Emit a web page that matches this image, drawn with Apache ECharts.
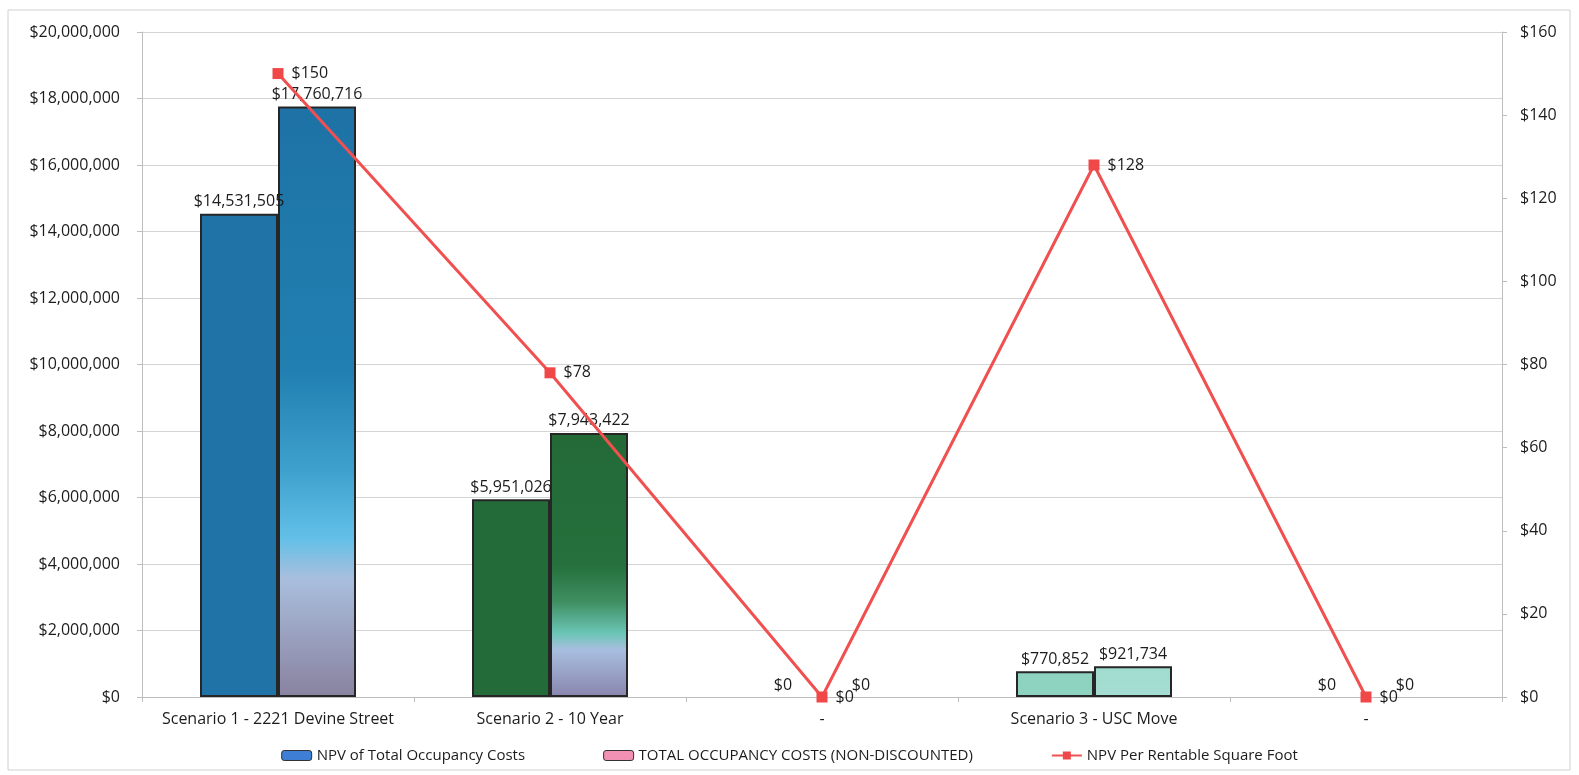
<!DOCTYPE html>
<html><head><meta charset="utf-8">
<script src="https://cdn.jsdelivr.net/npm/echarts@6/dist/echarts.min.js"></script>
<style>html,body{margin:0;padding:0;background:#fff}#c{width:1579px;height:775px}</style>
</head><body><div id="c"></div>
<script>
const categories = ['Scenario 1 - 2221 Devine Street', 'Scenario 2 - 10 Year', '-', 'Scenario 3 - USC Move', '-'];
const npvTotal = [14531505, 5951026, 0, 770852, 0];
const totalNonDiscounted = [17760716, 7943422, 0, 921734, 0];
const npvPerSqFt = [150, 78, 0, 128, 0];
const leftTicks = { min: 0, max: 20000000, interval: 2000000 };
const rightTicks = { min: 0, max: 160, interval: 20 };

const FONT = '"Open Sans", "Noto Sans", sans-serif';
const TXT = '#1c1c1c';
const npvColors = ['#1F73A6', '#236B38', '#2E7D5A', '#8ED3C0', '#1F73A6'];
function grad(stops) {
  return { type: 'linear', x: 0, y: 0, x2: 0, y2: 1, colorStops: stops.map(s => ({ offset: s[0], color: s[1] })) };
}
const totalColors = [
  grad([[0, '#1E72A5'], [0.45, '#2180B1'], [0.62, '#3FA2CE'], [0.73, '#62C0E8'], [0.8, '#A9BEDD'], [1, '#88829F']]),
  grad([[0, '#236A37'], [0.5, '#25703C'], [0.64, '#3F8F62'], [0.76, '#6CC6B6'], [0.82, '#A8BEE0'], [1, '#8985AD']]),
  '#9FDACB',
  grad([[0, '#9FDCCE'], [1, '#A7DDD3']]),
  '#9FDACB'
];
const money = v => '$' + Math.round(v).toLocaleString('en-US');
const barItem = (v, color) => ({ value: v, itemStyle: { color: color, borderWidth: v === 0 ? 0 : 2 } });

const chart = echarts.init(document.getElementById('c'));
chart.setOption({
  animation: false,
  textStyle: { fontFamily: FONT },
  graphic: [{
    type: 'rect', shape: { x: 8, y: 10, width: 1562, height: 760 },
    style: { fill: 'none', stroke: '#d0d0d0', lineWidth: 1 }, z: -1
  }],
  grid: { left: 142, right: 77, top: 32, bottom: 78 },
  legend: {
    bottom: 7, left: 'center', itemGap: 78, itemWidth: 30, itemHeight: 10,
    textStyle: { fontFamily: FONT, fontSize: 15, color: TXT },
    data: [
      { name: 'NPV of Total Occupancy Costs', itemStyle: { color: '#3E7ED4', borderColor: '#333', borderWidth: 1 } },
      { name: 'TOTAL OCCUPANCY COSTS (NON-DISCOUNTED)', itemStyle: { color: '#F291B4', borderColor: '#333', borderWidth: 1 } },
      { name: 'NPV Per Rentable Square Foot' }
    ]
  },
  xAxis: {
    type: 'category', data: categories,
    axisLine: { lineStyle: { color: '#bdbdbd' } },
    axisTick: { show: true, alignWithLabel: false, lineStyle: { color: '#bdbdbd' } },
    axisLabel: { interval: 0, color: TXT, fontSize: 16, margin: 14, fontFamily: FONT }
  },
  yAxis: [{
    type: 'value', min: leftTicks.min, max: leftTicks.max, interval: leftTicks.interval,
    axisLine: { show: true, lineStyle: { color: '#bdbdbd' } },
    axisTick: { show: true, lineStyle: { color: '#bdbdbd' } },
    splitLine: { lineStyle: { color: '#d4d4d4' } },
    axisLabel: { color: TXT, fontSize: 16, margin: 22, formatter: v => money(v), fontFamily: FONT }
  }, {
    type: 'value', min: rightTicks.min, max: rightTicks.max, interval: rightTicks.interval,
    axisLine: { show: true, lineStyle: { color: '#bdbdbd' } },
    axisTick: { show: true, lineStyle: { color: '#bdbdbd' } },
    splitLine: { show: false },
    axisLabel: { color: TXT, fontSize: 16, margin: 18, formatter: v => '$' + v, fontFamily: FONT }
  }],
  series: [{
    name: 'NPV of Total Occupancy Costs', type: 'bar', barWidth: 78, barGap: '0%',
    itemStyle: { color: '#3E7ED4', borderColor: '#262626', borderWidth: 2 },
    data: npvTotal.map((v, i) => barItem(v, npvColors[i])),
    label: { show: true, position: 'top', distance: 4, color: TXT, fontSize: 16, fontFamily: FONT, formatter: p => money(p.value) }
  }, {
    name: 'TOTAL OCCUPANCY COSTS (NON-DISCOUNTED)', type: 'bar', barWidth: 78, barGap: '0%',
    itemStyle: { color: '#F291B4', borderColor: '#262626', borderWidth: 2 },
    data: totalNonDiscounted.map((v, i) => barItem(v, totalColors[i])),
    label: { show: true, position: 'top', distance: 4, color: TXT, fontSize: 16, fontFamily: FONT, formatter: p => money(p.value) }
  }, {
    name: 'NPV Per Rentable Square Foot', type: 'line', yAxisIndex: 1, z: 5,
    data: npvPerSqFt,
    symbol: 'rect', symbolSize: 11,
    lineStyle: { color: '#F05050', width: 3 },
    itemStyle: { color: '#F04848' },
    label: { show: true, position: 'right', distance: 8, color: TXT, fontSize: 16, fontFamily: FONT, formatter: p => '$' + p.value }
  }]
});
</script></body></html>
